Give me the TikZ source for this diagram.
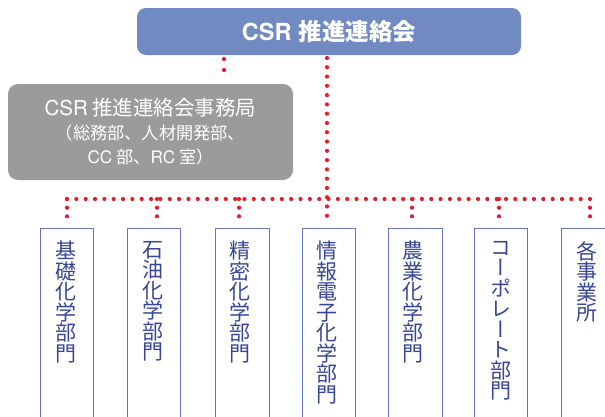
\documentclass[tikz,border=0pt]{standalone}
\usepackage{fontspec}
\newfontfamily\jp{Noto Sans CJK JP}
\newfontfamily\jpv[RawFeature=+vert]{Noto Sans CJK JP}
\newfontfamily\lat{TeX Gyre Heros}
\definecolor{titleblue}{RGB}{113,139,194}
\definecolor{secgray}{RGB}{155,155,155}
\definecolor{dotred}{RGB}{228,30,45}
\definecolor{deptline}{RGB}{105,115,185}
\definecolor{depttext}{RGB}{55,70,150}
\tikzset{
  reddots/.style={draw=dotred, line width=4.2pt, line cap=round, dash pattern=on 0pt off #1pt},
  deptbox/.style={draw=deptline, line width=0.9pt, fill=white, anchor=north west, minimum height=220pt, inner sep=0pt},
  depttxt/.style={anchor=north, align=center, inner sep=0pt, text=depttext, font=\jpv\fontsize{21}{20.5}\selectfont},
}
\begin{document}
\begin{tikzpicture}[x=1pt,y=-1pt]
\useasboundingbox (0,0) rectangle (605,416);
\clip (0,0) rectangle (605,416);
% title box
\node[fill=titleblue, rounded corners=9pt, minimum width=384pt, minimum height=47pt, inner sep=0pt, text=white] (top) at (329,31.5)
  {\fontsize{23.5}{26}\selectfont{\lat\bfseries CSR} {\jp\bfseries 推進連絡会}};
% secretariat box
\node[fill=secgray, rounded corners=10pt, minimum width=285pt, minimum height=96pt, inner sep=0pt, text=white, align=center,
      font=\jp\fontsize{17.2}{24}\selectfont] (sec) at (150.5,132)
  {\fontsize{20.5}{24}\selectfont{\lat CSR} 推進連絡会事務局\\
   （総務部、人材開発部、\\
   {\lat CC} 部、{\lat RC} 室）};
% department boxes
\node[deptbox, minimum width=53pt] (d1) at (40,228) {};
\node[deptbox, minimum width=53pt] (d2) at (127,228) {};
\node[deptbox, minimum width=54pt] (d3) at (215,228) {};
\node[deptbox, minimum width=53pt] (d4) at (302,228) {};
\node[deptbox, minimum width=54pt] (d5) at (388,228) {};
\node[deptbox, minimum width=53pt] (d6) at (474,228) {};
\node[deptbox, minimum width=60pt] (d7) at (561,228) {};
% department texts
\node[depttxt] (t1) at (66,241) {基\\礎\\化\\学\\部\\門};
\node[depttxt] (t2) at (153,241) {石\\油\\化\\学\\部\\門};
\node[depttxt] (t3) at (240,241) {精\\密\\化\\学\\部\\門};
\node[depttxt] (t4) at (327,241) {情\\報\\電\\子\\化\\学\\部\\門};
\node[depttxt] (t5) at (413,241) {農\\業\\化\\学\\部\\門};
\node[depttxt] (t6) at (501,241) {コ\\ー\\ポ\\レ\\ー\\ト\\部\\門};
\node[depttxt] (t7) at (587,241) {各\\事\\業\\所};
% junction coordinates
\coordinate (s1) at (224,59);
\coordinate (s2) at (224,81);
\coordinate (m1) at (327,58);
\coordinate (m2) at (327,225);
\coordinate (hl) at (67,199);
\coordinate (hr) at (590,199);
\coordinate (j1) at (67,199);
\coordinate (j2) at (157,199);
\coordinate (j3) at (239,199);
\coordinate (j5) at (412,199);
\coordinate (j6) at (499,199);
\coordinate (j7) at (590,199);
% connectors
\draw[reddots=11] (s1) -- (s2);
\draw[reddots=9.28] (m1) -- (m2);
\draw[reddots=9.34] (hl) -- (hr);
\foreach \j/\d in {j1/d1,j2/d2,j3/d3,j5/d5,j6/d6,j7/d7}{
  \draw[reddots=8.67] (\j) -- ([yshift=3pt]\d.north -| \j);
}
\end{tikzpicture}
\end{document}
